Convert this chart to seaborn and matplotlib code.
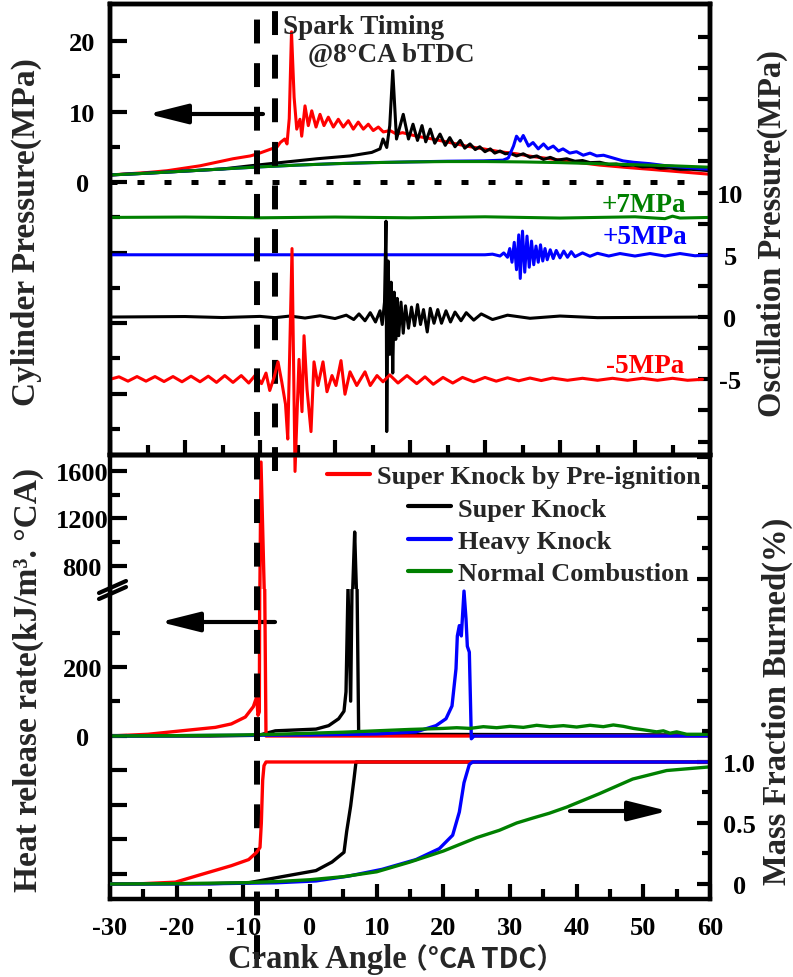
import numpy as np
import matplotlib
matplotlib.use("Agg")
import matplotlib.pyplot as plt
import seaborn as sns
from matplotlib.lines import Line2D
from matplotlib.transforms import blended_transform_factory

# ---------------- data ----------------
# upper panel uses its own crank-angle scale (-30..50 degCA)
# cylinder pressure (MPa), (CA, p)
p_red = [(-30, 1.0), (-25, 1.35), (-22.4, 1.6), (-18, 2.3), (-13.6, 3.3), (-11.3, 3.7),
         (-10.3, 4.0), (-7.7, 5.0), (-7.3, 5.6), (-6.7, 6.1), (-6.4, 5.4), (-6.1, 9.0),
         (-5.8, 21.3), (-5.45, 12.0), (-5.1, 7.5), (-4.67, 8.9), (-4.44, 6.5), (-4.0, 10.8),
         (-3.56, 8.0), (-3.1, 10.1), (-2.53, 7.8), (-2.0, 9.6), (-1.47, 8.0), (-0.89, 9.2),
         (-0.22, 7.8), (0.44, 8.9), (1.1, 7.8), (1.78, 8.7), (2.44, 7.5), (3.1, 8.5),
         (3.78, 7.5), (4.44, 8.2), (5.1, 7.3), (5.78, 7.8), (6.44, 7.1), (7.33, 7.3),
         (8.2, 6.8), (9.0, 7.0), (10.9, 6.5), (13.0, 6.1), (15.3, 5.6), (17.5, 5.1),
         (19.8, 4.7), (22.0, 4.3), (24.2, 4.0), (26.4, 3.6), (28.7, 3.3), (31.5, 2.9),
         (35.3, 2.4), (38.5, 2.1), (42.0, 1.8), (46.0, 1.45), (50.0, 1.1)]
p_black = [(-30, 1.0), (-25, 1.25), (-20, 1.55), (-15, 1.85), (-11.3, 2.3), (-6.9, 2.8),
           (-2.4, 3.3), (2.0, 3.7), (4.9, 4.2), (6.0, 4.7), (6.4, 6.1), (6.9, 4.9),
           (7.3, 8.0), (7.7, 15.8), (8.2, 6.1), (9.1, 9.6), (9.8, 6.1), (10.4, 8.2),
           (11.0, 5.9), (11.6, 8.0), (12.1, 5.7), (12.7, 7.5), (13.3, 5.5), (14.0, 6.8),
           (14.7, 5.2), (15.3, 6.3), (16.0, 5.0), (16.7, 5.9), (17.3, 4.8), (18.0, 5.4),
           (18.7, 4.6), (19.3, 5.0), (20.0, 4.3), (20.7, 4.7), (21.3, 4.1), (22.0, 4.4),
           (22.7, 4.0), (23.3, 4.1), (24.2, 3.7), (25.1, 4.0), (26.0, 3.5), (26.9, 3.7),
           (27.8, 3.2), (28.7, 3.5), (29.6, 3.1), (30.9, 3.3), (32.0, 2.95), (33.0, 3.05),
           (34.0, 2.75), (35.3, 2.8), (36.5, 2.5), (37.5, 2.55), (38.5, 2.35), (39.8, 2.4),
           (41.0, 2.15), (42.2, 2.2), (43.4, 1.95), (44.6, 2.0), (46.0, 1.8), (47.5, 1.8),
           (50.0, 1.6)]
p_blue = [(-30, 1.0), (-25, 1.25), (-20, 1.55), (-15, 1.85), (-10, 2.15), (-5, 2.4),
          (0, 2.6), (5, 2.75), (10, 2.85), (15, 2.95), (19.8, 3.0), (22.4, 3.1),
          (23.1, 3.4), (23.8, 5.1), (24.2, 6.5), (24.7, 5.8), (25.1, 6.6), (25.8, 5.1),
          (26.4, 5.6), (27.1, 4.7), (27.8, 5.4), (28.4, 4.7), (29.1, 5.1), (29.8, 4.4),
          (30.4, 4.7), (31.3, 4.1), (32.2, 4.3), (33.1, 3.8), (34.0, 4.1), (34.9, 3.7),
          (35.8, 3.8), (37.1, 3.4), (38.4, 3.0), (39.8, 2.8), (42.0, 2.6), (44.2, 2.3),
          (46.4, 2.1), (50.0, 1.8)]
p_green = [(-30, 1.0), (-25, 1.25), (-20, 1.55), (-15, 1.85), (-10, 2.15), (-5, 2.4),
           (0, 2.6), (5, 2.75), (10, 2.85), (15, 2.9), (20, 2.9), (25, 2.85), (30, 2.75),
           (35, 2.6), (40, 2.45), (45, 2.3), (50, 2.1)]

# pressure oscillation (MPa) around each trace's offset
osc_offsets = {"red": -5.0, "black": 0.0, "blue": 5.0, "green": 8.0}
osc_red = [(-30, 0), (-28.8, 0.2), (-27.6, -0.15), (-26.4, 0.22), (-25.2, -0.15), (-24, 0.22),
           (-22.8, -0.18), (-21.6, 0.22), (-20.4, -0.2), (-19.2, 0.25), (-18, -0.2),
           (-16.9, 0.25), (-15.8, -0.25), (-14.7, 0.3), (-13.6, -0.25), (-12.5, 0.3),
           (-11.5, -0.3), (-10.6, 0.35), (-9.8, -0.35), (-9.2, 0.5), (-8.7, -0.9), (-8.1, 0.2),
           (-7.6, 1.4), (-7.1, -0.2), (-6.6, -2.0), (-6.3, -4.8), (-5.73, 10.5), (-5.33, -7.4),
           (-4.8, 1.6), (-4.4, -2.6), (-4.13, 3.5), (-3.73, -0.8), (-3.2, -4.2), (-2.8, 1.4),
           (-2.27, -0.5), (-1.6, 1.4), (-1.07, -1.0), (-0.4, 0.3), (0.13, -0.5), (0.8, 1.5),
           (1.33, -1.2), (2.0, 0.6), (2.9, -0.5), (4.0, 0.6), (4.7, -0.5), (5.6, 0.3),
           (6.4, -0.2), (7.3, 0.35), (8.4, -0.3), (9.6, 0.3), (10.9, -0.35), (12.0, 0.2),
           (13.1, -0.4), (14.4, 0.15), (15.7, -0.3), (17, 0.15), (18.5, -0.2), (20, 0.15),
           (21.5, -0.15), (23, 0.12), (24.5, -0.12), (26, 0.1), (27.5, -0.1), (29, 0.1),
           (31, -0.08), (33, 0.08), (35, -0.08), (37, 0.08), (39, -0.08), (41, 0.08),
           (43, -0.08), (45, 0.08), (47, -0.08), (49, 0)]
osc_black = [(-30, 0), (-20, 0.04), (-15, -0.04), (-10, 0.05), (-8, -0.05), (-6, 0.08),
             (-4, -0.08), (-2, 0.1), (0, -0.12), (1.5, 0.15), (2.5, -0.2), (3.2, 0.25),
             (4.0, -0.3), (4.7, 0.35), (5.4, -0.4), (6.0, 0.5), (6.3, -0.6), (6.6, 1.2),
             (6.8, 7.7), (6.9, -9.2), (7.1, 4.5), (7.3, -3.0), (7.5, 2.8), (7.7, -4.5),
             (7.9, 2.0), (8.1, -1.8), (8.3, 1.5), (8.5, -1.5), (8.8, 1.2), (9.1, -1.3),
             (9.4, 0.9), (9.8, -0.9), (10.2, 0.8), (10.6, -0.7), (11.0, 1.0), (11.4, -0.6),
             (11.8, 0.6), (12.3, -1.2), (12.7, 0.7), (13.2, -0.5), (13.7, 0.6), (14.2, -0.5),
             (14.8, 0.5), (15.4, -0.4), (16, 0.4), (16.8, -0.3), (17.5, 0.35), (18.5, -0.25),
             (19.5, 0.25), (21, -0.2), (23, 0.15), (26, -0.1), (30, 0.08), (35, -0.05), (50, 0)]
osc_blue = [(-30, 0), (20, 0), (21, 0.05), (22, -0.1), (22.5, 0.15), (23, -0.2), (23.3, 0.5),
            (23.6, -0.6), (23.9, 1.0), (24.2, -1.2), (24.5, 1.6), (24.7, -1.9), (25.0, 1.9),
            (25.3, -1.4), (25.6, 1.5), (25.9, -1.0), (26.2, 1.1), (26.5, -0.8), (26.8, 0.7),
            (27.1, -0.6), (27.4, 0.8), (27.7, -0.5), (28.0, 0.5), (28.3, -0.4), (28.7, 0.4),
            (29.1, -0.3), (29.5, 0.35), (30, -0.25), (30.5, 0.3), (31, -0.2), (31.5, 0.25),
            (32, -0.15), (33, 0.15), (34, -0.12), (35, 0.12), (36.5, -0.1), (38, 0.1),
            (40, -0.1), (42, 0.1), (44, -0.1), (46, 0.1), (48, -0.08), (50, 0)]
osc_green = [(-30, 0), (-20, 0.03), (-10, -0.03), (0, 0.03), (10, -0.03), (20, 0.05),
             (30, -0.05), (40, 0.05), (44, -0.1), (45, 0.1), (46, -0.05), (50, 0)]

# heat release rate (kJ/m3/degCA), lower panels use -30..60 degCA
hrr_red = [(-30, 0), (-24.3, 5), (-19.3, 15), (-14.2, 25), (-11.8, 35), (-9.7, 55),
           (-8.5, 85), (-8.0, 113), (-7.8, 60), (-7.6, 70), (-7.35, 1675), (-6.6, 0), (60, 0)]
hrr_black = [(-30, 0), (-15, 0), (-7.7, 2), (-5.2, 15), (0.9, 20), (2.8, 30), (4.3, 50),
             (5.1, 72), (5.4, 128), (5.7, 430), (6.1, 101), (6.7, 1086), (6.85, 800),
             (7.3, 10), (8, 5), (60, 3)]
hrr_blue = [(-30, 0), (0, 3), (10, 6), (15.9, 12), (18.9, 30), (20.4, 50), (21.3, 87),
            (21.9, 195), (22.1, 290), (22.4, 320), (22.7, 290), (23.1, 420), (23.4, 340),
            (23.6, 260), (23.9, 243), (24.2, -8), (24.6, 0), (60, 0)]
hrr_green = [(-30, 0), (-20, 1), (-10, 3), (-5, 5), (0, 8), (5, 11), (10, 15), (15, 19),
             (20, 22), (22, 24), (24, 22), (26, 27), (28, 24), (30, 28), (32, 25), (34, 31),
             (36, 27), (38, 30), (40, 26), (42, 31), (44, 27), (45.5, 32), (47, 28),
             (48.5, 22), (50, 18), (52, 12), (53, 15), (54, 8), (55, 12), (56.5, 5), (60, 5)]

# mass fraction burned (-)
mfb_red = [(-30, 0), (-25, 0.003), (-20.2, 0.015), (-16.8, 0.07), (-11.8, 0.15), (-9.2, 0.2),
           (-8.0, 0.26), (-7.5, 0.3), (-7.3, 0.5), (-7.1, 0.85), (-6.9, 0.97), (-6.6, 1.0),
           (60, 1.0)]
mfb_black = [(-30, 0), (-15, 0.003), (-9.2, 0.01), (-4.2, 0.06), (0.9, 0.11), (3.3, 0.18),
             (5.1, 0.26), (5.5, 0.43), (6.1, 0.64), (6.6, 0.86), (6.9, 1.0), (60, 1.0)]
mfb_blue = [(-30, 0), (-15, 0.002), (-5, 0.01), (0.9, 0.025), (5.8, 0.065), (10.8, 0.12),
            (15.9, 0.2), (19.4, 0.29), (21.4, 0.4), (22.4, 0.59), (23.1, 0.83), (23.9, 0.98),
            (24.4, 1.0), (60, 1.0)]
mfb_green = [(-30, 0), (-20, 0.003), (-10, 0.01), (-5, 0.02), (0, 0.035), (5, 0.06),
             (10, 0.1), (15, 0.18), (20, 0.27), (25, 0.38), (28.4, 0.44), (31, 0.5),
             (33.4, 0.54), (35.9, 0.58), (38.5, 0.63), (43.4, 0.74), (48.4, 0.86),
             (53.5, 0.93), (60, 0.96)]

labels = ["Super Knock by Pre-ignition", "Super Knock", "Heavy Knock", "Normal Combustion"]
spark_ca = -8
RED, BLK, BLU, GRN = "#ff0000", "#000000", "#0000ff", "#008000"

# ---------------- style ----------------
sns.set_theme(style="ticks")
plt.rcParams["font.family"] = ["Liberation Serif", "DejaVu Serif"]
plt.rcParams["font.weight"] = "bold"
plt.rcParams["xtick.labelsize"] = 19
plt.rcParams["ytick.labelsize"] = 19
plt.rcParams["xtick.color"] = "black"
plt.rcParams["ytick.color"] = "black"

fig = plt.figure(figsize=(7.93, 9.78), dpi=100)
fig.patch.set_facecolor("white")
W, H = 793.0, 978.0


def fx(px):
    return px / W


def fy(py):
    return 1.0 - py / H


def rect(x0, y0, x1, y1):
    return [fx(x0), fy(y1), (x1 - x0) / W, (y1 - y0) / H]


def curve(ax, pts, color, lw=2.2, offset=0.0, **kw):
    a = np.array(pts, dtype=float)
    sns.lineplot(x=a[:, 0], y=a[:, 1] + offset, ax=ax, color=color, linewidth=lw,
                 estimator=None, sort=False, legend=False, **kw)


ax_top = fig.add_axes(rect(110, 5, 710, 456))
ax_osc = ax_top.twinx()
ax_hu = fig.add_axes(rect(110, 456, 710, 590))
ax_hl = fig.add_axes(rect(110, 590, 710, 900))
ax_m = fig.add_axes(rect(110, 456, 710, 900))
for a in (ax_hu, ax_hl, ax_m):
    a.patch.set_visible(False)

# ---------------- upper panel ----------------
curve(ax_top, p_red, RED)
curve(ax_top, p_black, BLK)
curve(ax_top, p_blue, BLU)
curve(ax_top, p_green, GRN)
ax_top.axhline(0, xmin=0, xmax=0.985, color="black", lw=3.6, ls=(0, (1.4, 4)))

curve(ax_osc, osc_green, GRN, offset=osc_offsets["green"])
curve(ax_osc, osc_blue, BLU, offset=osc_offsets["blue"])
curve(ax_osc, osc_black, BLK, offset=osc_offsets["black"])
curve(ax_osc, osc_red, RED, offset=osc_offsets["red"], clip_on=False)

ax_top.set_xlim(-30, 50)
ax_top.set_ylim(-38.72, 25.25)
ax_osc.set_ylim(-11.08, 25.14)

ax_top.set_xticks(np.arange(-30, 51, 10))
ax_top.set_xticks(np.arange(-25, 50, 10), minor=True)
ax_top.tick_params(axis="x", which="both", direction="in", bottom=True, top=False,
                   labelbottom=False, width=3)
ax_top.tick_params(axis="x", which="major", length=11)
ax_top.tick_params(axis="x", which="minor", length=7)

yt = [-30, -20, -10, 0, 10, 20]
ax_top.set_yticks(yt, labels=[str(v) if v >= 0 else "" for v in yt])
ax_top.set_yticks([-35, -25, -15, -5, 5, 15], minor=True)
ax_top.tick_params(axis="y", which="both", direction="in", left=True, right=False, width=3, pad=20)
ax_top.tick_params(axis="y", which="major", length=12)
ax_top.tick_params(axis="y", which="minor", length=7)
plt.setp(ax_top.get_yticklabels(), ha="center")

ot = np.arange(-10, 25, 2.5)
ax_osc.set_yticks(ot, labels=[f"{v:g}" if v in (-5, 0, 5, 10) else "" for v in ot])
ax_osc.tick_params(axis="y", which="both", direction="in", right=True, left=False,
                   width=3, length=8.6, pad=14.4)
plt.setp(ax_osc.get_yticklabels(), ha="center")

for a in (ax_top, ax_osc):
    for s in a.spines.values():
        s.set_linewidth(3.2)
        s.set_color("black")

# ---------------- heat release rate (broken axis) ----------------
hrr_sets = [(hrr_black, BLK), (hrr_red, RED), (hrr_blue, BLU), (hrr_green, GRN)]
for a in (ax_hu, ax_hl):
    for pts, c in hrr_sets:
        curve(a, pts, c, lw=2.4)
    a.set_xlim(-30, 60)
ax_hu.set_ylim(606.3, 1734.7)
ax_hl.set_ylim(-472.5, 426.1)

ax_hu.set_xticks([])
ax_hu.set_yticks([800, 1200, 1600], labels=["800", "1200", "1600"])
ax_hu.set_yticks([1000, 1400], minor=True)
ax_hu.spines["bottom"].set_visible(False)
ax_hu.spines["right"].set_visible(False)

ax_hl.set_xticks(np.arange(-30, 61, 10), labels=[str(v) for v in range(-30, 61, 10)])
ax_hl.set_xticks(np.arange(-25, 60, 10), minor=True)
hl = [-400, -300, -200, -100, 0, 200]
ax_hl.set_yticks(hl, labels=[str(v) if v >= 0 else "" for v in hl])
ax_hl.set_yticks([100, 300], minor=True)
ax_hl.spines["top"].set_visible(False)
ax_hl.spines["right"].set_visible(False)
ax_hl.tick_params(axis="x", which="both", direction="in", bottom=True, top=False, width=3, pad=12)
ax_hl.tick_params(axis="x", which="major", length=11)
ax_hl.tick_params(axis="x", which="minor", length=7)

for a in (ax_hu, ax_hl):
    a.tick_params(axis="y", which="both", direction="in", left=True, right=False, width=3, pad=20)
    a.tick_params(axis="y", which="major", length=12)
    a.tick_params(axis="y", which="minor", length=7)
    plt.setp(a.get_yticklabels(), ha="center")
    for s in a.spines.values():
        s.set_linewidth(3.2)
        s.set_color("black")

# ---------------- mass fraction burned ----------------
for pts, c in [(mfb_black, BLK), (mfb_red, RED), (mfb_blue, BLU), (mfb_green, GRN)]:
    curve(ax_m, pts, c, lw=2.4)
ax_m.set_xlim(-30, 60)
ax_m.set_ylim(-0.123, 3.516)
ax_m.set_xticks([])
ax_m.yaxis.tick_right()
mt = np.arange(0, 3.6, 0.5)
ax_m.set_yticks(mt, labels=["0", "0.5", "1.0"] + [""] * (len(mt) - 3))
ax_m.set_yticks(np.arange(0.25, 3.5, 0.5), minor=True)
ax_m.tick_params(axis="y", which="both", direction="in", right=True, left=False, width=3, pad=21)
ax_m.tick_params(axis="y", which="major", length=9.4)
ax_m.tick_params(axis="y", which="minor", length=5.8)
plt.setp(ax_m.get_yticklabels(), ha="center")
for k, s in ax_m.spines.items():
    s.set_visible(k == "right")
    s.set_linewidth(3.2)
    s.set_color("black")

# ---------------- spark timing dashed lines ----------------
dash = (0, (4, 3.3))
ax_hl.plot([spark_ca, spark_ca], [fy(960), fy(5)], color="black", lw=4.3, ls=dash,
           transform=blended_transform_factory(ax_hl.transData, fig.transFigure), clip_on=False)
ax_top.plot([spark_ca, spark_ca], [fy(472), fy(5)], color="black", lw=4.3, ls=dash,
            transform=blended_transform_factory(ax_top.transData, fig.transFigure), clip_on=False)

# axis break marks
for dy in (0, 6):
    fig.add_artist(Line2D([fx(99), fx(126)], [fy(594 + dy), fy(582 + dy)], color="black", lw=3))

# ---------------- arrows ----------------
arrow = dict(arrowstyle="-|>,head_length=1.2,head_width=0.3", mutation_scale=20, lw=3,
             color="black", shrinkA=0, shrinkB=0)
ax_top.annotate("", xy=(fx(148), fy(115)), xytext=(fx(263), fy(115)),
                xycoords="figure fraction", arrowprops=arrow)
ax_hu.annotate("", xy=(fx(160), fy(623)), xytext=(fx(275), fy(623)),
               xycoords="figure fraction", arrowprops=arrow, annotation_clip=False)
ax_m.annotate("", xy=(fx(668), fy(812)), xytext=(fx(570), fy(812)),
              xycoords="figure fraction", arrowprops=arrow)

# ---------------- legends ----------------
leg_kw = dict(loc="center left", bbox_transform=fig.transFigure, frameon=False, borderpad=0,
              borderaxespad=0, handlelength=1.63, handletextpad=0.25, fontsize=19)
leg1 = ax_hl.legend([Line2D([], [], color=RED, lw=3)], labels[:1],
                    bbox_to_anchor=(fx(327), fy(477)), **leg_kw)
leg2 = ax_m.legend([Line2D([], [], color=c, lw=3) for c in (BLK, BLU, GRN)], labels[1:],
                   bbox_to_anchor=(fx(408), fy(542)), labelspacing=0.33, **leg_kw)

# ---------------- texts ----------------
fig.text(fx(283), fy(27), "Spark Timing", fontsize=19.5, va="center", ha="left")
fig.text(fx(308), fy(55), "@8°CA bTDC", fontsize=19.5, va="center", ha="left")
fig.text(fx(602), fy(205), "+7MPa", color=GRN, fontsize=19.5, va="center")
fig.text(fx(603), fy(238), "+5MPa", color=BLU, fontsize=19.5, va="center")
fig.text(fx(606), fy(367), "-5MPa", color=RED, fontsize=19.5, va="center")

fig.text(fx(26), fy(232), "Cylinder Pressure(MPa)", rotation=90, fontsize=24,
         ha="center", va="center")
fig.text(fx(28), fy(680), "Heat release rate(kJ/m³. °CA)", rotation=90, fontsize=24,
         ha="center", va="center")
fig.text(fx(772), fy(234), "Oscillation Pressure(MPa)", rotation=90, fontsize=23.5,
         ha="center", va="center")
fig.text(fx(777), fy(701), "Mass Fraction Burned(%)", rotation=90, fontsize=23.5,
         ha="center", va="center")
fig.text(fx(228), fy(960), "Crank Angle", fontsize=23.5, ha="left", va="center")
fig.text(fx(400), fy(960), "（°CA TDC）", fontsize=20, ha="left", va="center",
         family=["Noto Sans CJK SC", "DejaVu Sans"], weight="bold")

fig.savefig("out.png", dpi=100)
